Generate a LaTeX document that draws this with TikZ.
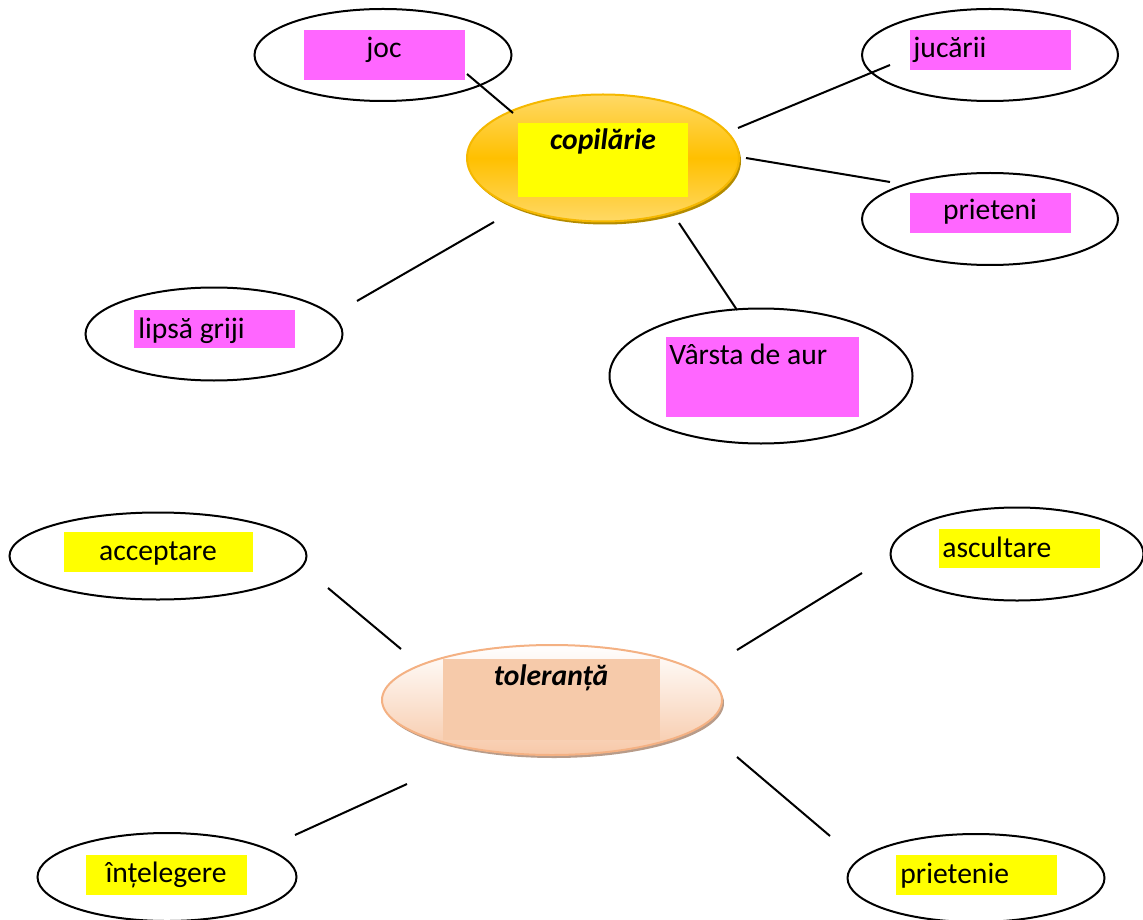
\documentclass[tikz,border=0pt]{standalone}
\usepackage{fontspec}
\setmainfont{Carlito}
\usetikzlibrary{shapes.geometric}
\definecolor{pinkbox}{HTML}{FF66FF}
\definecolor{yellowbox}{HTML}{FFFF00}
\definecolor{peachbox}{HTML}{F6CAAA}
\definecolor{goldlight}{HTML}{FFD966}
\definecolor{goldmid}{HTML}{FFC000}
\definecolor{goldedge}{HTML}{F5B800}
\definecolor{goldshadow}{HTML}{B38B00}
\definecolor{peachlight}{HTML}{FFFFFF}
\definecolor{peachdark}{HTML}{F7C8A8}
\definecolor{peachedge}{HTML}{F4B183}
\definecolor{peachshadow}{HTML}{B89C8A}
\tikzset{
  bubble/.style={ellipse,draw=black,line width=1pt,inner sep=0pt},
  wordtxt/.style={inner sep=0pt,font=\fontsize{14.8}{17}\selectfont},
  keytxt/.style={inner sep=0pt,font=\fontsize{14.8}{17}\selectfont\bfseries\itshape},
  spoke/.style={line width=1pt},
}

\begin{document}
\begin{tikzpicture}[x=0.5pt,y=-0.5pt]
  \useasboundingbox (0,0) rectangle (1143,919);
  \clip (0,0) rectangle (1143,919);
  % ---- copilarie map (top) ----
  \node[ellipse,fill=goldshadow,minimum width=136pt,minimum height=63.5pt] (copilsh) at (605,161) {};
  \node[ellipse,draw=goldedge,line width=1pt,top color=goldlight,bottom color=goldlight,
        middle color=goldmid,minimum width=136pt,minimum height=63.5pt] (copil) at (603,158) {};
  \fill[yellowbox] (518,123) rectangle (688,197);
  \node[keytxt,anchor=base] (copiltxt) at (603,150) {copilărie};

  \node[bubble,minimum width=128.5pt,minimum height=46pt] (joc) at (383,55) {};
  \node[bubble,minimum width=128pt,minimum height=46pt] (jucarii) at (990,55) {};
  \node[bubble,minimum width=128pt,minimum height=46pt] (prieteni) at (990,219) {};
  \node[bubble,minimum width=128.5pt,minimum height=46.5pt] (lipsa) at (214,334) {};
  \node[bubble,minimum width=151.5pt,minimum height=67.5pt] (varsta) at (761,376) {};

  \fill[pinkbox] (304,30) rectangle (465,80);
  \fill[pinkbox] (910,30) rectangle (1071,70);
  \fill[pinkbox] (910,193) rectangle (1071,233);
  \fill[pinkbox] (134,310) rectangle (295,348);
  \fill[pinkbox] (666,337) rectangle (859,417);

  \node[wordtxt,anchor=base] (joctxt) at (384,58) {joc};
  \node[wordtxt,anchor=base west] (jucariitxt) at (913,58) {jucării};
  \node[wordtxt,anchor=base] (prietenitxt) at (990,220) {prieteni};
  \node[wordtxt,anchor=base west] (lipsatxt) at (138,338) {lipsă griji};
  \node[wordtxt,anchor=base west] (varstatxt) at (669,364) {Vârsta de aur};

  \coordinate (s1a) at (467,74);   \coordinate (s1b) at (513,113);
  \coordinate (s2a) at (738,128);  \coordinate (s2b) at (890,65);
  \coordinate (s3a) at (746,158);  \coordinate (s3b) at (890,182);
  \coordinate (s4a) at (357,301);  \coordinate (s4b) at (494,222);
  \coordinate (s5a) at (679,223);  \coordinate (s5b) at (737,310);
  \foreach \s in {1,...,5}
    \draw[spoke] (s\s a) -- (s\s b);

  % ---- toleranta map (bottom) ----
  \node[ellipse,fill=peachshadow,minimum width=170pt,minimum height=55pt] (tolersh) at (554,703) {};
  \node[ellipse,draw=peachedge,line width=1pt,top color=peachlight,bottom color=peachdark,
        minimum width=170pt,minimum height=55pt] (toler) at (552,700) {};
  \fill[peachbox] (443,659) rectangle (660,740);
  \node[keytxt,anchor=base] (tolertxt) at (551,685) {toleranță};

  \node[bubble,minimum width=148.5pt,minimum height=43.5pt] (accept) at (158,556) {};
  \node[bubble,minimum width=126.5pt,minimum height=46.5pt] (ascult) at (1017,554) {};
  \node[bubble,minimum width=129.5pt,minimum height=44pt] (intel) at (167,877) {};
  \node[bubble,minimum width=128.5pt,minimum height=44pt] (prietenie) at (976,878) {};

  \fill[yellowbox] (64,532) rectangle (253,572);
  \fill[yellowbox] (939,529) rectangle (1100,568);
  \fill[yellowbox] (86,855) rectangle (247,895);
  \fill[yellowbox] (896,855) rectangle (1057,895);

  \node[wordtxt,anchor=base] (accepttxt) at (158,560) {acceptare};
  \node[wordtxt,anchor=base west] (ascultxt) at (942,557) {ascultare};
  \node[wordtxt,anchor=base] (inteltxt) at (166,882) {înțelegere};
  \node[wordtxt,anchor=base west] (prietenietxt) at (900,883) {prietenie};

  \coordinate (t1a) at (328,588);  \coordinate (t1b) at (401,649);
  \coordinate (t2a) at (737,650);  \coordinate (t2b) at (862,573);
  \coordinate (t3a) at (295,835);  \coordinate (t3b) at (407,784);
  \coordinate (t4a) at (737,757);  \coordinate (t4b) at (830,836);
  \foreach \t in {1,...,4}
    \draw[spoke] (t\t a) -- (t\t b);
\end{tikzpicture}
\end{document}
